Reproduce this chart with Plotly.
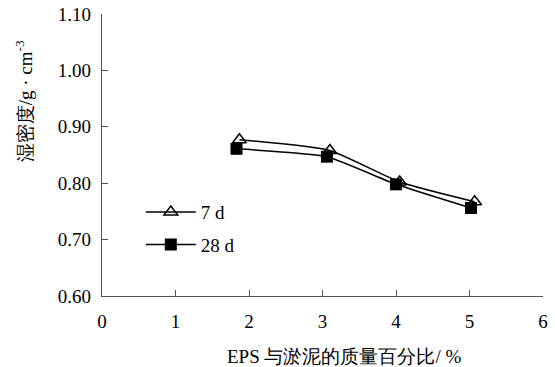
import plotly.graph_objects as go

# EPS content (%) and wet density (g/cm3)
eps_7d = [1.87, 3.10, 4.05, 5.07]
rho_7d = [0.877, 0.858, 0.802, 0.767]
eps_28d = [1.83, 3.06, 4.00, 5.02]
rho_28d = [0.861, 0.847, 0.798, 0.756]

x_ticks = [0, 1, 2, 3, 4, 5, 6]
y_ticks = [0.60, 0.70, 0.80, 0.90, 1.00, 1.10]
y_tick_text = ["0.60", "0.70", "0.80", "0.90", "1.00", "1.10"]

serif = "Liberation Serif"
fs = 19

fig = go.Figure()
fig.add_trace(go.Scatter(
    x=eps_7d, y=rho_7d, name="7 d", mode="lines+markers", legendgroup="a",
    line=dict(color="black", width=1.5, shape="spline", smoothing=0.5),
    marker=dict(symbol="triangle-up-open", size=12, color="black",
                line=dict(width=1.5, color="black")),
))
fig.add_trace(go.Scatter(
    x=eps_28d, y=rho_28d, name="28 d", mode="lines+markers", legendgroup="b",
    line=dict(color="black", width=1.5, shape="spline", smoothing=0.5),
    marker=dict(symbol="square", size=12, color="black"),
))

axis_common = dict(
    showgrid=False, zeroline=False, showline=True, linecolor="#555",
    linewidth=1.2, ticks="inside", tickcolor="#555", ticklen=6,
    automargin=False,
    tickfont=dict(family=serif, size=fs, color="black"),
)

fig.update_layout(
    width=555, height=367,
    margin=dict(l=102, r=12, t=14, b=71),
    paper_bgcolor="white", plot_bgcolor="white",
    font=dict(family=serif, size=fs, color="black"),
    xaxis=dict(range=[0, 6], tickvals=x_ticks, ticklabelstandoff=8,
               **axis_common),
    yaxis=dict(range=[0.60, 1.10], tickvals=y_ticks, ticktext=y_tick_text,
               ticklabelstandoff=6, **axis_common),
    showlegend=True,
    legend=dict(x=0.088, y=0.365, xanchor="left", yanchor="top",
                bgcolor="rgba(0,0,0,0)", traceorder="grouped",
                tracegroupgap=5,
                font=dict(family=serif, size=fs, color="black"),
                itemwidth=50),
    annotations=[
        dict(text="EPS 与淤泥的质量百分比/ %", xref="paper", yref="paper",
             x=0.55, y=-0.17, xanchor="center", yanchor="top",
             showarrow=False, font=dict(family=serif, size=fs, color="black")),
        dict(text="湿密度/g · cm<sup>-3</sup>", xref="paper", yref="paper",
             x=-0.175, y=0.69, xanchor="center", yanchor="middle",
             textangle=-90, showarrow=False,
             font=dict(family=serif, size=fs, color="black")),
    ],
)

fig.write_html("out.html")
